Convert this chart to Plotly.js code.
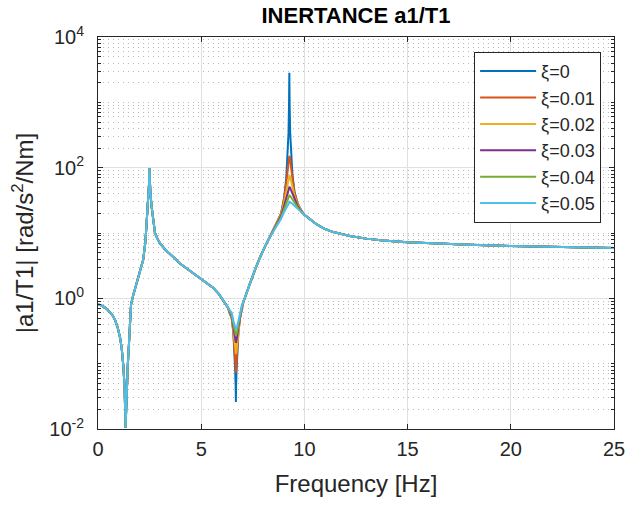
<!DOCTYPE html>
<html>
<head>
<meta charset="utf-8">
<script src="https://cdn.plot.ly/plotly-3.0.1.min.js"></script>
<style>html,body{margin:0;padding:0;background:#fff;}#chart{width:628px;height:506px;}</style>
</head>
<body>
<div id="chart"></div>
<script>
// ---- data ----
const seriesNames = ['ξ=0', 'ξ=0.01', 'ξ=0.02', 'ξ=0.03', 'ξ=0.04', 'ξ=0.05'];

// common part (all curves coincide), 0 – 6.3 Hz
const freqLow = [0, 0.12, 0.25, 0.38, 0.5, 0.6, 0.7, 0.82, 0.95, 1.07, 1.15, 1.23, 1.29, 1.335, 1.38, 1.44, 1.5, 1.55, 1.6, 1.7, 1.85, 2.0, 2.1, 2.19, 2.3, 2.36, 2.42, 2.45, 2.47, 2.49, 2.51, 2.54, 2.6, 2.68, 2.76, 2.88, 3.0, 3.25, 3.5, 3.75, 3.97, 4.3, 4.62, 5.07, 5.35, 5.59, 5.85, 6.07, 6.2, 6.3];
const magLow = [0.80, 0.79, 0.75, 0.71, 0.65, 0.60, 0.55, 0.47, 0.36, 0.25, 0.17, 0.09, 0.042, 0.0105, 0.04, 0.09, 0.2, 0.42, 0.8, 1.1, 1.6, 2.3, 2.9, 3.9, 7.5, 14, 24, 36, 55, 98, 60, 40, 25, 14, 10, 8.2, 7.0, 5.6, 4.8, 4.0, 3.4, 2.85, 2.4, 1.9, 1.65, 1.44, 1.17, 0.93, 0.80, 0.72];

// anti-resonance near 6.7 Hz (curves differ)
const freqAnti = [6.38, 6.48, 6.56, 6.62, 6.65, 6.67, 6.68, 6.69, 6.71, 6.74, 6.80, 6.88, 6.98];
const antiXi0   = [0.594, 0.494, 0.295, 0.148, 0.074, 0.044, 0.026, 0.044, 0.074, 0.148, 0.295, 0.494, 0.72];
const antiXi001 = [0.60, 0.499, 0.303, 0.163, 0.101, 0.076, 0.072, 0.076, 0.101, 0.163, 0.303, 0.499, 0.73];
const antiXi002 = [0.614, 0.512, 0.325, 0.200, 0.156, 0.144, 0.142, 0.144, 0.156, 0.200, 0.325, 0.512, 0.744];
const antiXi003 = [0.627, 0.535, 0.359, 0.255, 0.222, 0.212, 0.21, 0.212, 0.222, 0.255, 0.359, 0.535, 0.76];
const antiXi004 = [0.64, 0.564, 0.400, 0.310, 0.281, 0.273, 0.27, 0.273, 0.281, 0.310, 0.400, 0.564, 0.776];
const antiXi005 = [0.66, 0.60, 0.45, 0.37, 0.347, 0.34, 0.339, 0.34, 0.347, 0.37, 0.45, 0.60, 0.80];

// common part, 7.0 – 8.4 Hz
const freqMid = [7.04, 7.12, 7.22, 7.36, 7.5, 7.65, 7.85, 8.1, 8.33];
const magMid = [0.88, 1.02, 1.3, 1.7, 2.2, 3.0, 4.3, 6.3, 8.7];

// resonance near 9.3 Hz (curves differ)
const freqRes = [8.6, 8.87, 9.02, 9.12, 9.19, 9.23, 9.255, 9.27, 9.285, 9.31, 9.35, 9.42, 9.52, 9.67, 9.85];
const resXi0   = [13.2, 20.0, 34.9, 68.6, 149, 340, 927, 2840, 927, 345, 158, 78.4, 43.2, 28.4, 22.1];
const resXi001 = [13.1, 19.7, 33.3, 59.0, 97.9, 135, 148, 150, 148, 137, 104, 67.5, 41.2, 28.1, 22.0];
const resXi002 = [12.9, 19.1, 29.7, 44.9, 60.4, 71.8, 74.8, 75, 74.8, 72.8, 64.2, 51.4, 36.8, 27.2, 21.7];
const resXi003 = [12.7, 18.2, 26.1, 35.1, 43.0, 48.5, 50.0, 50.0, 50.0, 49.2, 45.6, 40.2, 32.4, 25.9, 21.3];
const resXi004 = [12.5, 17.3, 23.2, 28.8, 33.4, 36.5, 37.5, 37.5, 37.5, 37.0, 35.5, 32.9, 28.8, 24.7, 20.9];
const resXi005 = [12.2, 16.5, 21.0, 24.5, 27.5, 29.3, 30.0, 30.0, 30.0, 29.7, 29.2, 28.0, 26.0, 23.5, 20.5];

// common tail, 10 – 25 Hz
const freqHigh = [10.0, 10.3, 10.6, 11.0, 11.3, 11.7, 12.2, 13.0, 13.8, 15.0, 16.5, 18.0, 20.0, 22.5, 25.0];
const magHigh = [19.0, 16.0, 13.5, 11.5, 10.6, 9.8, 9.0, 8.2, 7.7, 7.2, 6.85, 6.6, 6.3, 6.1, 5.9];

const antiSeries = [antiXi0, antiXi001, antiXi002, antiXi003, antiXi004, antiXi005];
const resSeries  = [resXi0, resXi001, resXi002, resXi003, resXi004, resXi005];

const xTickVals = [0, 5, 10, 15, 20, 25];
const yTickVals = [0.01, 1, 100, 10000];
const yTickText = ['10<sup>-2</sup>', '10<sup>0</sup>', '10<sup>2</sup>', '10<sup>4</sup>'];

// ---- styling ----
const colors = ['#0072BD', '#D95319', '#EDB120', '#7E2F8E', '#77AC30', '#4DBEEE'];
const AX = '#262626';
const FONT = '"Liberation Sans", Arial, Helvetica, sans-serif';

const freqAll = freqLow.concat(freqAnti, freqMid, freqRes, freqHigh);
const traces = seriesNames.map((name, i) => ({
  type: 'scatter', mode: 'lines', name: name,
  x: freqAll,
  y: magLow.concat(antiSeries[i], magMid, resSeries[i], magHigh),
  line: {color: colors[i], width: 2},
  hoverinfo: 'skip'
}));

// minor log grid positions (2..9 x 10^k, and odd decades)
const minorVals = [];
for (let k = -2; k < 4; k++) {
  for (let m = 2; m <= 9; m++) minorVals.push(m * Math.pow(10, k));
  if (k % 2 !== 0) minorVals.push(Math.pow(10, k));
}

const layout = {
  width: 628, height: 506,
  margin: {l: 98, r: 14, t: 37, b: 77, pad: 0},
  paper_bgcolor: '#fff', plot_bgcolor: '#fff',
  font: {family: FONT, color: AX, size: 20},
  showlegend: true,
  title: {text: '<b>INERTANCE a1/T1</b>', font: {family: FONT, size: 22, color: '#000'},
          x: 0.5, xref: 'paper', xanchor: 'center', y: 1 - 15 / 506, yref: 'container', yanchor: 'middle'},
  xaxis: {
    range: [0, 25], tickmode: 'array', tickvals: xTickVals,
    ticks: 'inside', ticklen: 5, tickwidth: 1, tickcolor: AX,
    showline: true, linecolor: AX, linewidth: 1, mirror: 'ticks',
    showgrid: true, gridcolor: '#e0e0e0', gridwidth: 1, zeroline: false,
    tickfont: {size: 20, color: AX}, ticklabelstandoff: 2,
    title: {text: 'Frequency [Hz]', font: {size: 24, color: AX}, standoff: 16}
  },
  yaxis: {
    type: 'log', range: [-2, 4], tickmode: 'array', tickvals: yTickVals, ticktext: yTickText,
    ticks: 'inside', ticklen: 5, tickwidth: 1, tickcolor: AX,
    showline: true, linecolor: AX, linewidth: 1, mirror: 'ticks',
    showgrid: true, gridcolor: '#e0e0e0', gridwidth: 1, zeroline: false,
    tickfont: {size: 20, color: AX}, ticklabelstandoff: 9,
    minor: {tickmode: 'array', tickvals: minorVals, ticks: 'inside', ticklen: 3, tickcolor: AX,
            showgrid: true, gridcolor: '#b8b8b8', gridwidth: 1, griddash: '1px,4px'},
    title: {text: '|a1/T1| [rad/s<sup>2</sup>/Nm]', font: {size: 24, color: AX}, standoff: 8}
  },
  legend: {
    x: 0.975, y: 0.962, xanchor: 'right', yanchor: 'top',
    bgcolor: '#fff', bordercolor: AX, borderwidth: 1, itemwidth: 56,
    font: {family: FONT, size: 18, color: AX}, tracegroupgap: 0
  }
};

Plotly.newPlot('chart', traces, layout, {displayModeBar: false, staticPlot: true});
</script>
</body>
</html>
